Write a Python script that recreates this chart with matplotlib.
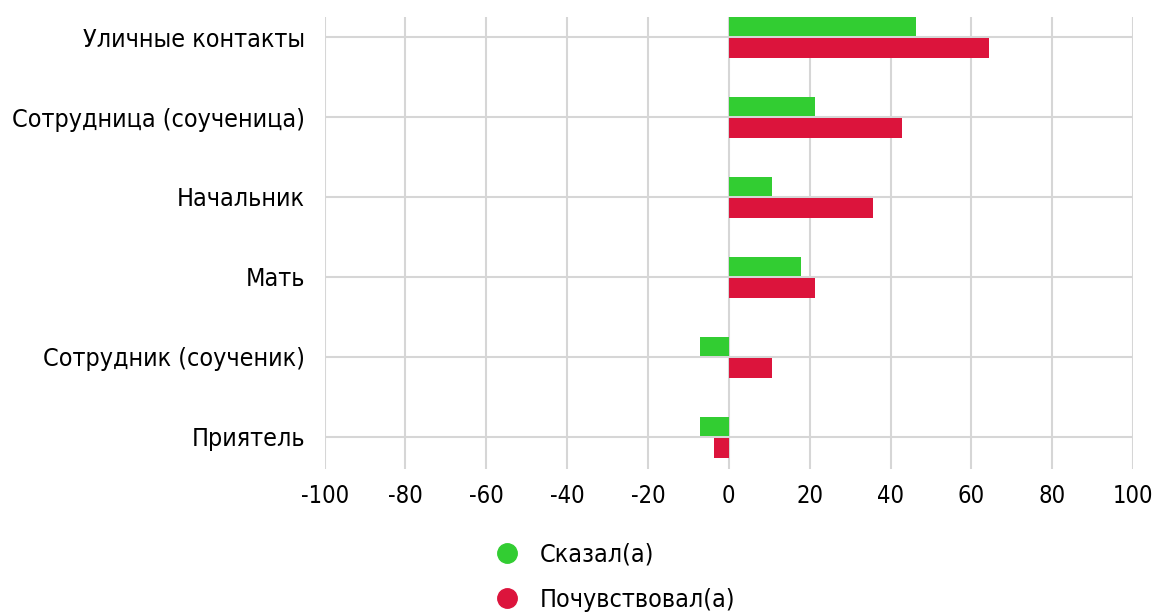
import numpy as np
import matplotlib.pyplot as plt
from matplotlib.lines import Line2D

plt.rcParams['font.family'] = ['DejaVu Sans']
plt.rcParams['font.stretch'] = 'condensed'
plt.rcParams['axes.unicode_minus'] = False

categories = ['Уличные контакты', 'Сотрудница (соученица)', 'Начальник',
              'Мать', 'Сотрудник (соученик)', 'Приятель']
said = [46.4, 21.4, 10.7, 17.9, -7.1, -7.1]
felt = [64.3, 42.9, 35.7, 21.4, 10.7, -3.6]
series_names = ['Сказал(а)', 'Почувствовал(а)']
green = '#32cd32'
red = '#dc143c'

fig = plt.figure(figsize=(11.57, 6.12), dpi=100)
ax = fig.add_axes([0.2806, 0.2337, 0.6987, 0.7385])

y = np.arange(len(categories))
h = 0.245
ax.barh(y - 0.13, said, height=h, color=green, zorder=3)
ax.barh(y + 0.14, felt, height=h, color=red, zorder=3)

ax.set_xlim(-100, 100)
ax.set_ylim(len(categories) - 1 + 0.4, -0.25)
ax.set_xticks(np.arange(-100, 101, 20))
ax.set_yticks(y)
ax.set_yticklabels(categories)
ax.tick_params(axis='both', length=0, colors='black')
ax.tick_params(axis='y', pad=14, labelsize=18)
ax.tick_params(axis='x', pad=11, labelsize=17)
ax.grid(True, color='#d6d6d6', linewidth=1.5, zorder=0)
for s in ax.spines.values():
    s.set_visible(False)

handles = [Line2D([], [], marker='o', linestyle='', markersize=14, color=green),
           Line2D([], [], marker='o', linestyle='', markersize=14, color=red)]
fig.legend(handles, series_names, loc='upper left', bbox_to_anchor=(0.417, 0.113),
           frameon=False, fontsize=18, handletextpad=0.3, labelspacing=0.85,
           borderaxespad=0, borderpad=0)

fig.savefig('out.png', dpi=100)
